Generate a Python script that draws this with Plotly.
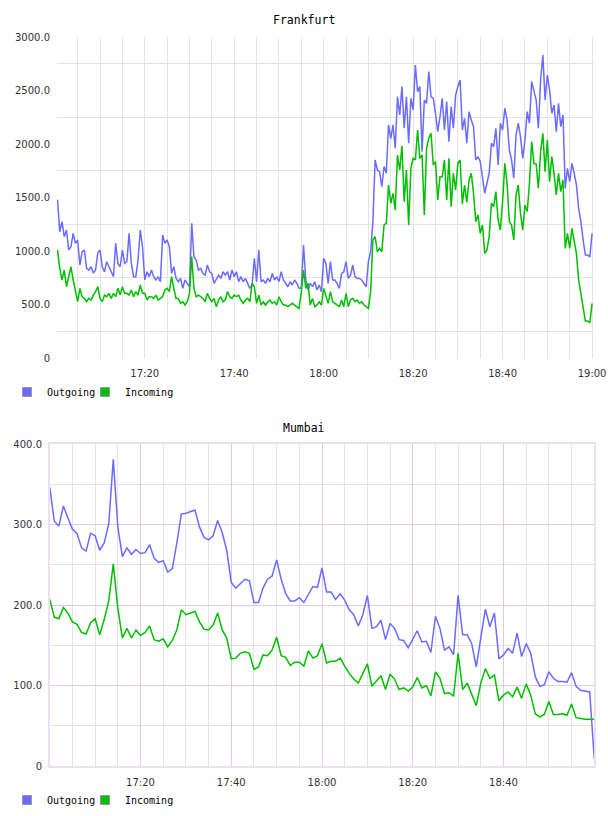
import pandas as pd
import plotly.graph_objects as go

# ---------------- data ----------------
DAY = "2014-01-01"
SERIES = ["Outgoing", "Incoming"]

FRA_TITLE = "Frankfurt"
FRA_START = "17:00:30"
FRA_STEP = "30s"
FRA_OUT = [
    1480, 1180, 1274, 1134, 1196, 1009, 1040, 1165, 1072, 1100, 869, 993, 1009, 838, 822, 853, 794, 822, 981, 1009,
    853, 806, 900, 853, 806, 760, 1072, 884, 853, 1009, 884, 900, 1165, 884, 760, 760, 915, 1196, 1040, 729,
    806, 760, 822, 760, 729, 760, 713, 1150, 1072, 1103, 1040, 791, 853, 744, 713, 744, 651, 729, 697, 666,
    1259, 946, 915, 822, 838, 791, 775, 869, 806, 791, 697, 744, 775, 744, 806, 775, 806, 729, 822, 760,
    806, 713, 760, 713, 744, 697, 651, 682, 931, 713, 1009, 713, 729, 697, 744, 713, 791, 729, 760, 713,
    806, 729, 697, 666, 713, 682, 729, 697, 651, 651, 1056, 729, 636, 698, 667, 713, 636, 682, 620, 931,
    884, 698, 900, 729, 729, 698, 651, 791, 806, 900, 744, 775, 869, 760, 744, 744, 729, 698, 666, 900,
    993, 1274, 1851, 1757, 1742, 1602, 1790, 1726, 2178, 2050, 2178, 1960, 2442, 2271, 2536, 2147, 2442, 2007, 2427, 2318,
    2738, 2489, 2536, 1929, 2411, 2380, 2676, 2442, 2427, 2287, 2116, 2256, 2427, 2131, 2396, 2022, 2349, 2147, 2458, 2536,
    2598, 2131, 2240, 2007, 2303, 2225, 2162, 1851, 1882, 1835, 1664, 1540, 1633, 1726, 2007, 1976, 2147, 1804, 2194, 2131,
    2334, 2225, 1944, 1851, 1680, 2084, 2194, 2069, 1866, 2038, 2303, 2194, 2583, 2505, 2411, 2147, 2598, 2832, 2411, 2645,
    2505, 2287, 2365, 2116, 2380, 2162, 2271, 1586, 1773, 1648, 1820, 1726, 1617, 1400, 1274, 1103, 962, 962, 946, 1165,
]
FRA_IN = [
    1009, 838, 729, 822, 666, 775, 853, 729, 635, 526, 651, 573, 557, 526, 557, 542, 588, 620, 666, 557,
    526, 588, 573, 604, 557, 604, 573, 651, 588, 666, 604, 604, 588, 635, 573, 620, 588, 682, 604, 604,
    542, 573, 573, 557, 588, 542, 557, 573, 635, 651, 620, 760, 651, 557, 557, 511, 526, 495, 526, 604,
    947, 651, 573, 588, 573, 557, 526, 604, 557, 526, 557, 480, 542, 573, 526, 542, 620, 573, 557, 588,
    573, 588, 542, 511, 542, 557, 526, 697, 666, 511, 588, 495, 526, 495, 526, 542, 511, 526, 495, 573,
    526, 495, 495, 480, 495, 511, 495, 480, 464, 620, 822, 651, 697, 495, 557, 480, 495, 526, 495, 651,
    573, 511, 620, 526, 511, 495, 480, 542, 480, 604, 480, 542, 557, 526, 542, 511, 526, 495, 480, 464,
    620, 1103, 1134, 993, 1024, 993, 1243, 1258, 1617, 1446, 1539, 1383, 1897, 1757, 1982, 1461, 1757, 1243, 1773, 1866,
    1851, 2131, 1866, 1897, 1337, 1960, 2053, 2100, 1804, 1835, 1477, 1695, 1695, 1851, 1477, 1866, 1415, 1726, 1570, 1820,
    1851, 1439, 1617, 1455, 1664, 1726, 1539, 1274, 1337, 1165, 1243, 978, 1009, 1134, 1446, 1415, 1555, 1290, 1196, 1461,
    1819, 1633, 1274, 1243, 1103, 1523, 1617, 1352, 1196, 1430, 1368, 1633, 2022, 1819, 1813, 1586, 1929, 2100, 1742, 2038,
    1648, 1882, 1726, 1523, 1726, 1555, 1664, 1024, 1165, 1024, 1212, 1087, 978, 729, 604, 480, 346, 346, 330, 511,
]
FRA_Y_TICKS = [0, 500, 1000, 1500, 2000, 2500, 3000]
FRA_Y_LABELS = ["0", "500.0", "1000.0", "1500.0", "2000.0", "2500.0", "3000.0"]

MUM_TITLE = "Mumbai"
MUM_START = "17:00:00"
MUM_STEP = "60s"
MUM_OUT = [
    346, 304, 298, 323, 308, 294, 289, 271, 267, 289, 286, 268, 277, 301, 381, 297, 260, 271, 263, 269,
    264, 265, 275, 258, 253, 255, 241, 245, 277, 313, 314, 316, 318, 297, 284, 281, 286, 305, 290, 268,
    228, 221, 226, 232, 230, 203, 203, 221, 232, 236, 256, 232, 214, 205, 205, 209, 203, 213, 223, 222,
    246, 216, 216, 207, 214, 206, 194, 188, 174, 188, 212, 171, 173, 181, 157, 177, 171, 157, 156, 147,
    157, 168, 154, 155, 141, 186, 171, 144, 148, 138, 212, 163, 163, 152, 123, 157, 195, 173, 190, 133,
    138, 146, 140, 165, 136, 152, 140, 111, 99, 101, 117, 109, 105, 105, 104, 116, 99, 94, 93, 92,
    10,
]
MUM_IN = [
    207, 185, 183, 197, 190, 179, 176, 166, 164, 178, 183, 163, 182, 205, 251, 196, 159, 171, 159, 169,
    162, 166, 174, 157, 155, 158, 148, 156, 169, 194, 188, 190, 192, 179, 170, 169, 175, 190, 169, 159,
    133, 134, 140, 142, 140, 120, 123, 138, 137, 144, 160, 137, 135, 125, 129, 129, 124, 143, 134, 137,
    152, 128, 130, 130, 134, 124, 115, 108, 103, 115, 127, 99, 105, 112, 95, 114, 108, 95, 97, 93,
    98, 110, 97, 100, 87, 117, 109, 90, 91, 87, 140, 95, 103, 90, 75, 103, 121, 109, 113, 81,
    88, 92, 86, 98, 84, 102, 88, 65, 61, 64, 80, 64, 64, 65, 63, 77, 60, 59, 58, 58,
    58,
]
MUM_Y_TICKS = [0, 100, 200, 300, 400]
MUM_Y_LABELS = ["0", "100.0", "200.0", "300.0", "400.0"]

# ---------------- style ----------------
W, H = 608, 816
COLORS = {"Outgoing": "#6b6bff", "Incoming": "#00bf00"}
TICK_FONT = dict(family="DejaVu Sans", size=10, color="#333333")
MONO = "DejaVu Sans Mono"
GRID = "#e4e4e4"
M_MINOR = "#e9e0e9"
M_MAJOR = "#e2c8e4"
M_BORDER = "#eedff0"
FIVE_MIN = 5 * 60 * 1000
TWENTY_MIN = 20 * 60 * 1000


def px_x(p):
    return p / W


def px_y(p):
    return 1 - p / H


fra_t = pd.date_range(f"{DAY} {FRA_START}", periods=len(FRA_OUT), freq=FRA_STEP)
mum_t = pd.date_range(f"{DAY} {MUM_START}", periods=len(MUM_OUT), freq=MUM_STEP)

fig = go.Figure()

# legend ids per panel and series
panels = [
    (fra_t, {"Outgoing": FRA_OUT, "Incoming": FRA_IN}, "x", "y",
     {"Outgoing": "legend", "Incoming": "legend2"}, 392),
    (mum_t, {"Outgoing": MUM_OUT, "Incoming": MUM_IN}, "x2", "y2",
     {"Outgoing": "legend3", "Incoming": "legend4"}, 800),
]
LEGEND_BOX_X = {"Outgoing": 27, "Incoming": 105}   # centre of the legend swatch, px

legend_layout = {}
for times, data, xa, ya, lgs, ly in panels:
    for name in SERIES:
        fig.add_trace(go.Scatter(
            x=times, y=data[name], mode="lines", name=name,
            line=dict(color=COLORS[name], width=1.5),
            xaxis=xa, yaxis=ya, showlegend=False, legendgroup=lgs[name],
        ))
    for name in SERIES:
        fig.add_trace(go.Scatter(
            x=[None], y=[None], mode="markers", name=name,
            marker=dict(symbol="square", size=9, color=COLORS[name],
                        line=dict(color="#999999", width=1)),
            xaxis=xa, yaxis=ya, legend=lgs[name], legendgroup=lgs[name],
            showlegend=True,
        ))
        legend_layout[lgs[name]] = dict(
            orientation="h", x=px_x(LEGEND_BOX_X[name] - 20), y=px_y(ly),
            xanchor="left", yanchor="middle",
            font=dict(family=MONO, size=10, color="#000"),
            bgcolor="rgba(0,0,0,0)", borderwidth=0, itemwidth=30,
            itemclick=False, itemdoubleclick=False,
        )

common_x = dict(type="date", tickformat="%H:%M", tickmode="linear",
                tick0=f"{DAY} 17:00", dtick=TWENTY_MIN, ticks="",
                tickfont=TICK_FONT, zeroline=False, fixedrange=True)
common_y = dict(tickmode="array", ticks="", tickfont=TICK_FONT,
                zeroline=False, fixedrange=True)

fig.update_layout(
    width=W, height=H,
    margin=dict(l=0, r=0, t=0, b=0, autoexpand=False),
    paper_bgcolor="white", plot_bgcolor="white",
    showlegend=True,
    xaxis=dict(**common_x, domain=[px_x(57), px_x(594)], anchor="y",
               range=[f"{DAY} 17:00:23", f"{DAY} 19:00:26"],
               showgrid=True, gridcolor=GRID, gridwidth=1,
               minor=dict(dtick=FIVE_MIN, tick0=f"{DAY} 17:00", showgrid=True,
                          gridcolor=GRID, gridwidth=1),
               showline=False, ticklabelstandoff=8),
    yaxis=dict(**common_y, domain=[px_y(358), px_y(37)], anchor="x",
               range=[0, 3000], tickvals=FRA_Y_TICKS, ticktext=FRA_Y_LABELS,
               showgrid=False,
               minor=dict(tick0=250, dtick=500, showgrid=True, gridcolor=GRID,
                          gridwidth=1),
               showline=False, ticklabelstandoff=6),
    xaxis2=dict(**common_x, domain=[px_x(50), px_x(594)], anchor="y2",
                range=[f"{DAY} 17:00:03", f"{DAY} 18:59:57"],
                showgrid=True, gridcolor=M_MAJOR, gridwidth=1,
                minor=dict(dtick=FIVE_MIN, tick0=f"{DAY} 17:00", showgrid=True,
                           gridcolor=M_MINOR, gridwidth=1),
                showline=True, linecolor=M_BORDER, linewidth=2, mirror=True,
                ticklabelstandoff=6),
    yaxis2=dict(**common_y, domain=[px_y(766), px_y(444)], anchor="x2",
                range=[0, 400], tickvals=MUM_Y_TICKS, ticktext=MUM_Y_LABELS,
                showgrid=True, gridcolor=M_MAJOR, gridwidth=1,
                minor=dict(tick0=0, dtick=50, showgrid=True, gridcolor=M_MINOR,
                           gridwidth=1),
                showline=True, linecolor=M_BORDER, linewidth=2, mirror=True,
                ticklabelstandoff=4),
    annotations=[
        dict(text=FRA_TITLE, x=0.5, y=px_y(20), xref="paper", yref="paper",
             showarrow=False, xanchor="center", yanchor="middle",
             font=dict(family=MONO, size=11.5, color="#000")),
        dict(text=MUM_TITLE, x=0.5, y=px_y(428), xref="paper", yref="paper",
             showarrow=False, xanchor="center", yanchor="middle",
             font=dict(family=MONO, size=11.5, color="#000")),
    ],
    **legend_layout,
)

fig.write_html("out.html", config={"displayModeBar": False})
